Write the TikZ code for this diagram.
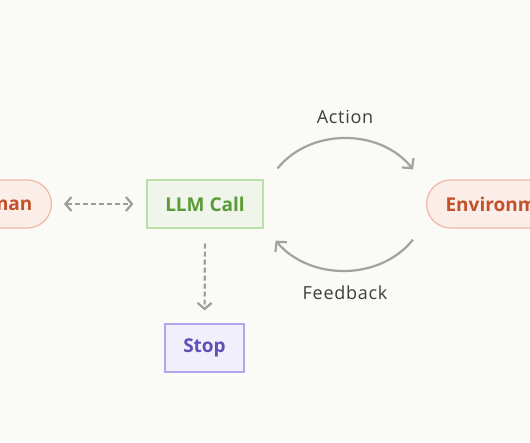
\documentclass[tikz,border=0pt]{standalone}
\usepackage{fontspec}
\setmainfont{Open Sans}
\newfontfamily\labelfont[LetterSpace=4]{Open Sans}
\usetikzlibrary{arrows.meta}
\definecolor{bg}{HTML}{FAFAF7}
\definecolor{arrowgrey}{HTML}{A3A29B}
\definecolor{dashgrey}{HTML}{9E9D96}
\definecolor{pinkfill}{HTML}{FBEEE9}
\definecolor{pinkline}{HTML}{F2B7A2}
\definecolor{pinktext}{HTML}{C4502C}
\definecolor{greenfill}{HTML}{EFF5EA}
\definecolor{greenline}{HTML}{B9E0A5}
\definecolor{greentext}{HTML}{5B9B36}
\definecolor{purplefill}{HTML}{F1EFFC}
\definecolor{purpleline}{HTML}{B0A6EE}
\definecolor{purpletext}{HTML}{5E50B8}
\definecolor{labeltext}{HTML}{3D3D3A}
\tikzset{
  pill/.style={draw=pinkline, fill=pinkfill, text=pinktext, line width=1.2pt,
    rounded corners=24pt, minimum height=48pt, inner xsep=19pt,
    font=\fontsize{19}{22}\selectfont\bfseries},
  boxnode/.style={draw=#1line, fill=#1fill, text=#1text, line width=1.2pt,
    minimum height=48pt, inner sep=0pt,
    font=\fontsize{19}{22}\selectfont\bfseries},
  dasharrow/.style={draw=dashgrey, line width=2.2pt, dash pattern=on 5pt off 3pt,
    {Straight Barb[length=6pt,width=14pt,line width=2.2pt]}-{Straight Barb[length=6pt,width=14pt,line width=2.2pt]}},
  dashdown/.style={draw=dashgrey, line width=2.2pt, dash pattern=on 5pt off 3pt,
    -{Straight Barb[length=6pt,width=14pt,line width=2.2pt]}},
  arcarrow/.style={draw=arrowgrey, line width=2.2pt,
    -{Straight Barb[length=7pt,width=15pt,line width=2.2pt]}},
  arclabel/.style={text=labeltext, font=\fontsize{18}{21}\selectfont\labelfont},
}
\begin{document}
\begin{tikzpicture}[x=1pt,y=-1pt]
\useasboundingbox[fill=bg] (0,0) rectangle (530,442);
\node[pill, anchor=east] (human) at (52,204) {Human};
\node[pill, anchor=west] (env) at (426,204) {Environment};
\node[boxnode=green, minimum width=116pt] (llm) at (205,204) {LLM Call};
\node[boxnode=purple, minimum width=79pt] (stop) at (204.5,348) {Stop};
\draw[dasharrow, shorten <=12pt, shorten >=13pt] (human.east) -- (llm.west);
\draw[dashdown, shorten <=15pt, shorten >=13pt] (llm.south) -- (stop.north);
\coordinate (a1) at ([shift={(14,-11)}]llm.north east);
\coordinate (a2) at ([shift={(-13,-10)}]env.north west);
\coordinate (f1) at ([shift={(-13,11)}]env.south west);
\coordinate (f2) at ([shift={(12,12)}]llm.south east);
\draw[arcarrow] (a1) .. controls (310,128) and (380,128) .. (a2);
\draw[arcarrow] (f1) .. controls (380,281) and (310,281) .. (f2);
\node[arclabel] (action) at (345,117) {Action};
\node[arclabel] (feedback) at (345,293) {Feedback};
\end{tikzpicture}
\end{document}
